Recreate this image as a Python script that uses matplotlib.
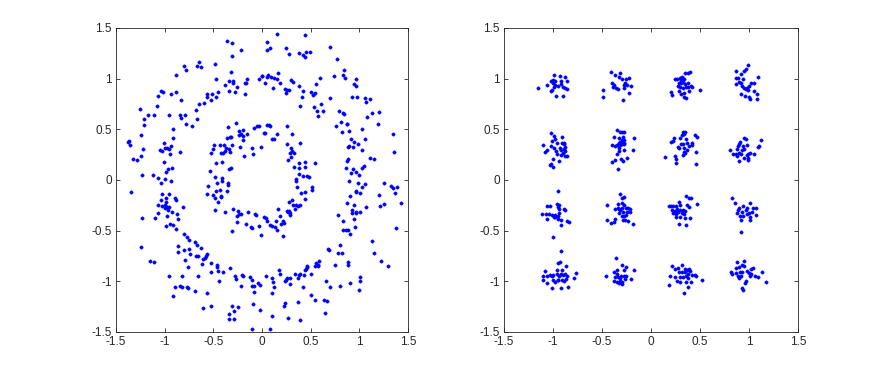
import matplotlib
matplotlib.use("Agg")
import matplotlib.pyplot as plt
import numpy as np

plt.rcParams['font.family'] = ['Liberation Sans', 'DejaVu Sans']

# ---------------- Left panel: ring constellation (x, y) ----------------
ring_upper_left = [
    (-0.363, 1.368), (-0.305, 1.352), (-0.219, 1.287), (-0.308, 1.228), (-0.801, 1.121), (-0.777, 1.081),
    (-0.651, 1.169), (-0.668, 1.124), (-0.627, 1.114), (-0.483, 1.147), (-0.880, 1.036), (-0.315, 1.065),
    (-0.476, 1.000), (-0.336, 0.974), (-0.301, 0.974), (-0.301, 0.954), (-0.151, 1.000), (-0.171, 0.961),
    (-0.164, 0.954), (-0.003, 1.023), (-0.034, 0.993), (-0.377, 0.935), (-0.260, 0.915), (-0.339, 0.879),
    (-0.277, 0.870), (-0.178, 0.844), (-1.034, 0.883), (-1.014, 0.870), (-1.065, 0.831), (-0.938, 0.850),
    (-0.887, 0.873), (-0.829, 0.785), (-0.562, 0.853), (-0.568, 0.824), (-0.476, 0.821), (-0.452, 0.870),
    (-0.510, 0.847), (-0.524, 0.792), (-0.596, 0.756), (-0.644, 0.746), (-0.675, 0.687), (-1.253, 0.700),
    (-1.079, 0.726), (-1.171, 0.645), (-1.106, 0.645), (-1.209, 0.599), (-1.216, 0.544), (-0.955, 0.642),
    (-0.839, 0.645), (-0.791, 0.645), (-0.836, 0.609), (-0.664, 0.606), (-0.777, 0.554), (-0.716, 0.528),
    (-0.918, 0.508), (-1.243, 0.446), (-1.370, 0.384), (-1.377, 0.375), (-1.353, 0.349), (-1.223, 0.309),
    (-1.240, 0.238), (-1.329, 0.208), (-1.281, 0.195), (-0.918, 0.414), (-1.010, 0.365), (-0.932, 0.332),
    (-0.973, 0.319), (-0.955, 0.309), (-1.051, 0.293), (-1.024, 0.290), (-0.997, 0.313), (-0.846, 0.277),
    (-0.949, 0.254), (-1.010, 0.179), (-0.925, 0.114), (-0.966, 0.111), (-0.983, 0.081), (-1.233, 0.049),
    (-1.123, 0.046), (-1.065, 0.016), (-0.993, 0.007), (-0.349, 0.521), (-0.267, 0.560), (-0.195, 0.498),
    (-0.236, 0.479), (-0.240, 0.446), (-0.212, 0.456), (-0.192, 0.430), (-0.154, 0.450), (-0.192, 0.391),
    (-0.082, 0.515), (-0.048, 0.528), (-0.034, 0.531), (-0.329, 0.427), (-0.318, 0.420), (-0.360, 0.410),
    (-0.394, 0.342), (-0.305, 0.349), (-0.497, 0.349), (-0.432, 0.345), (-0.373, 0.313), (-0.507, 0.309),
    (-0.336, 0.303), (-0.332, 0.280), (-0.380, 0.283), (-0.418, 0.270), (-0.397, 0.270), (-0.521, 0.264),
    (-0.223, 0.326), (-0.099, 0.316), (-0.014, 0.329), (-0.182, 0.238), (-0.089, 0.257), (-0.469, 0.163),
    (-0.408, 0.173), (-0.531, 0.091), (-0.342, 0.104), (-0.318, 0.114), (-0.486, 0.029), (-0.414, 0.023),
]

ring_upper_right = [
    (0.154, 1.443), (0.445, 1.427), (0.055, 1.358), (0.055, 1.287), (0.082, 1.300), (0.247, 1.300),
    (0.274, 1.244), (0.380, 1.254), (0.452, 1.261), (0.497, 1.264), (0.425, 1.235), (0.445, 1.218),
    (0.699, 1.309), (0.771, 1.199), (0.003, 1.026), (0.051, 1.020), (0.065, 1.039), (0.096, 1.016),
    (0.127, 1.007), (0.161, 1.052), (0.158, 0.993), (0.027, 0.961), (0.188, 0.954), (0.113, 0.906),
    (0.301, 0.987), (0.315, 0.971), (0.377, 0.925), (0.236, 0.896), (0.260, 0.886), (0.250, 0.863),
    (0.277, 0.886), (0.418, 0.876), (0.414, 0.821), (0.503, 0.870), (0.524, 0.840), (0.548, 0.863),
    (0.592, 1.010), (0.555, 0.951), (0.394, 0.730), (0.538, 0.723), (0.606, 0.746), (0.568, 0.681),
    (0.630, 0.681), (0.579, 0.629), (0.846, 1.081), (0.836, 1.036), (0.856, 1.007), (0.736, 1.029),
    (0.969, 1.000), (0.942, 0.948), (0.969, 0.928), (0.702, 0.805), (0.928, 0.824), (0.979, 0.824),
    (1.055, 0.811), (1.106, 0.801), (1.068, 0.769), (0.788, 0.684), (0.836, 0.664), (0.839, 0.651),
    (1.202, 0.671), (1.127, 0.658), (1.079, 0.625), (0.808, 0.573), (0.870, 0.557), (0.873, 0.550),
    (0.760, 0.534), (1.027, 0.505), (1.192, 0.554), (0.822, 0.469), (0.897, 0.479), (0.918, 0.407),
    (0.949, 0.378), (0.986, 0.355), (0.938, 0.322), (0.894, 0.336), (0.880, 0.326), (1.058, 0.404),
    (1.027, 0.296), (1.342, 0.453), (1.353, 0.277), (1.110, 0.215), (1.154, 0.208), (0.880, 0.205),
    (0.873, 0.189), (1.048, 0.140), (1.031, 0.114), (0.938, 0.107), (0.962, 0.081), (0.993, 0.052),
    (0.866, 0.121), (0.918, 0.065), (0.048, 0.541), (0.072, 0.547), (0.082, 0.537), (0.017, 0.466),
    (0.027, 0.466), (0.158, 0.456), (0.106, 0.404), (0.127, 0.404), (0.257, 0.537), (0.305, 0.453),
    (0.260, 0.358), (0.301, 0.316), (0.305, 0.287), (0.288, 0.270), (0.329, 0.267), (0.271, 0.195),
    (0.295, 0.231), (0.329, 0.124), (0.377, 0.121), (0.384, 0.163), (0.442, 0.173), (0.442, 0.124),
    (0.545, 0.166), (0.377, 0.055), (0.346, 0.007), (0.425, 0.042), (0.459, 0.042), (0.479, 0.026),
    (0.394, 0.362),
]

ring_lower_left = [
    (-1.034, -0.026), (-0.938, -0.007), (-1.346, -0.117), (-1.031, -0.143), (-0.955, -0.134), (-1.038, -0.195),
    (-0.986, -0.182), (-0.983, -0.215), (-1.065, -0.251), (-1.027, -0.261), (-0.993, -0.248), (-0.979, -0.267),
    (-1.000, -0.274), (-0.955, -0.267), (-0.966, -0.293), (-0.894, -0.182), (-0.887, -0.199), (-0.815, -0.267),
    (-1.068, -0.322), (-1.099, -0.375), (-1.236, -0.375), (-0.979, -0.352), (-0.925, -0.319), (-0.870, -0.332),
    (-0.866, -0.381), (-0.945, -0.430), (-0.990, -0.450), (-0.914, -0.446), (-0.887, -0.479), (-1.247, -0.658),
    (-1.147, -0.795), (-1.113, -0.805), (-0.798, -0.531), (-0.771, -0.564), (-0.747, -0.590), (-0.692, -0.612),
    (-0.671, -0.642), (-0.863, -0.651), (-0.866, -0.707), (-0.798, -0.691), (-0.747, -0.681), (-0.740, -0.733),
    (-0.791, -0.788), (-0.760, -0.860), (-0.682, -0.749), (-0.658, -0.752), (-0.630, -0.668), (-0.610, -0.775),
    (-0.586, -0.765), (-0.568, -0.730), (-0.575, -0.749), (-0.527, -0.824), (-0.613, -0.831), (-0.466, -0.837),
    (-0.459, -0.857), (-0.524, -0.909), (-0.452, -0.899), (-0.401, -0.909), (-0.445, -1.000), (-0.332, -0.866),
    (-0.952, -0.951), (-0.825, -0.948), (-0.654, -0.948), (-0.894, -1.059), (-0.842, -1.049), (-0.818, -1.052),
    (-0.767, -1.055), (-0.757, -1.068), (-0.692, -1.091), (-0.918, -1.147), (-0.565, -1.114), (-0.603, -1.261),
    (-0.527, -1.248), (-0.555, -0.059), (-0.466, -0.026), (-0.408, -0.010), (-0.349, -0.026), (-0.346, -0.049),
    (-0.565, -0.134), (-0.500, -0.147), (-0.486, -0.173), (-0.476, -0.104), (-0.432, -0.098), (-0.425, -0.153),
    (-0.418, -0.163), (-0.363, -0.111), (-0.452, -0.218), (-0.479, -0.300), (-0.384, -0.319), (-0.295, -0.287),
    (-0.250, -0.309), (-0.236, -0.339), (-0.212, -0.336), (-0.253, -0.358), (-0.257, -0.417), (-0.147, -0.313),
    (-0.075, -0.339), (-0.058, -0.349), (-0.164, -0.433), (-0.110, -0.466), (-0.106, -0.476), (-0.034, -0.453),
    (-0.308, -0.505), (-0.010, -0.547), (-0.281, -0.945), (-0.264, -0.980), (-0.202, -0.935), (-0.192, -0.945),
    (-0.219, -1.049), (-0.127, -0.958), (-0.099, -0.990), (-0.099, -1.042), (-0.082, -1.042), (-0.041, -1.020),
    (-0.021, -1.036), (-0.082, -1.107), (-0.092, -1.221), (-0.024, -1.287), (-0.312, -1.248), (-0.243, -1.251),
    (-0.291, -1.293), (-0.339, -1.322), (-0.336, -1.368), (-0.284, -1.375), (-0.106, -1.466),
]

ring_lower_right = [
    (0.353, -0.007), (0.360, -0.065), (0.397, -0.124), (0.442, -0.114), (0.514, -0.065), (0.514, -0.101),
    (0.438, -0.189), (0.308, -0.195), (0.277, -0.221), (0.315, -0.251), (0.349, -0.251), (0.370, -0.254),
    (0.390, -0.251), (0.336, -0.287), (0.164, -0.287), (0.277, -0.303), (0.253, -0.309), (0.288, -0.349),
    (0.264, -0.316), (0.284, -0.326), (0.017, -0.365), (0.041, -0.378), (0.182, -0.358), (0.147, -0.404),
    (0.055, -0.401), (0.212, -0.407), (0.226, -0.427), (0.192, -0.436), (0.103, -0.456), (0.137, -0.463),
    (0.079, -0.440), (0.158, -0.495), (0.216, -0.554), (0.894, -0.010), (0.990, -0.033), (1.055, -0.036),
    (1.024, -0.068), (0.969, -0.104), (0.966, -0.117), (1.010, -0.124), (0.901, -0.156), (1.257, -0.033),
    (1.325, -0.059), (1.346, -0.078), (1.387, -0.072), (1.366, -0.130), (1.202, -0.150), (1.250, -0.235),
    (1.216, -0.261), (1.432, -0.228), (0.877, -0.231), (0.942, -0.248), (0.921, -0.300), (0.925, -0.326),
    (0.962, -0.319), (1.003, -0.313), (0.969, -0.329), (1.072, -0.267), (0.784, -0.345), (0.829, -0.401),
    (0.942, -0.388), (0.836, -0.498), (0.860, -0.495), (0.884, -0.489), (0.901, -0.537), (0.959, -0.463),
    (1.377, -0.472), (0.678, -0.678), (0.692, -0.687), (0.805, -0.642), (0.781, -0.720), (0.818, -0.720),
    (1.127, -0.606), (1.147, -0.720), (1.223, -0.795), (1.298, -0.847), (0.747, -0.837), (0.884, -0.814),
    (0.880, -0.840), (0.582, -0.795), (0.551, -0.818), (0.548, -0.844), (0.579, -0.840), (0.575, -0.853),
    (0.466, -0.853), (0.459, -0.863), (0.449, -0.876), (0.438, -0.893), (0.390, -0.925), (0.380, -0.935),
    (0.432, -0.935), (0.366, -0.967), (0.288, -0.971), (0.260, -0.964), (0.243, -0.984), (0.233, -0.993),
    (0.291, -1.023), (0.342, -0.925), (0.507, -0.925), (0.654, -0.993), (0.702, -1.052), (0.805, -1.042),
    (0.908, -1.013), (1.003, -0.958), (1.007, -0.997), (0.993, -1.088), (0.421, -1.059), (0.503, -1.130),
    (0.541, -1.189), (0.640, -1.186), (0.664, -1.195), (0.647, -1.316), (0.370, -1.205), (0.236, -1.215),
    (0.223, -1.241), (0.271, -1.362), (0.394, -1.384), (0.106, -0.964), (0.045, -0.951), (0.113, -1.010),
    (0.120, -1.055), (0.106, -1.114), (0.171, -0.886), (0.182, -0.932), (0.099, -1.342), (0.082, -1.469),
]

# ---------------- Right panel: 16-point grid constellation ----------------
grid_upper_left = [
    (-1.158, 0.909), (-1.065, 0.938), (-1.021, 0.974), (-0.986, 1.033), (-1.000, 0.984), (-1.003, 0.961),
    (-0.976, 0.977), (-0.932, 1.023), (-0.880, 1.016), (-0.918, 0.977), (-0.853, 0.974), (-0.976, 0.935),
    (-0.952, 0.932), (-0.918, 0.945), (-0.901, 0.919), (-0.880, 0.909), (-0.860, 0.899), (-1.024, 0.876),
    (-1.010, 0.889), (-0.966, 0.831), (-0.897, 0.831), (-0.990, 0.915),
    (-0.411, 1.065), (-0.370, 1.033), (-0.318, 1.055), (-0.329, 1.020), (-0.298, 0.993), (-0.257, 0.993),
    (-0.223, 1.010), (-0.397, 0.961), (-0.373, 0.935), (-0.356, 0.909), (-0.387, 0.922), (-0.277, 0.941),
    (-0.264, 0.954), (-0.250, 0.935), (-0.209, 0.925), (-0.277, 0.909), (-0.332, 0.896), (-0.493, 0.886),
    (-0.486, 0.824), (-0.229, 0.860), (-0.281, 0.792),
    (-1.021, 0.466), (-0.986, 0.433), (-0.904, 0.420), (-0.979, 0.404), (-1.010, 0.381), (-0.955, 0.365),
    (-0.911, 0.362), (-0.890, 0.368), (-0.884, 0.355), (-1.103, 0.345), (-1.024, 0.332), (-0.990, 0.316),
    (-0.928, 0.316), (-0.880, 0.326), (-0.914, 0.296), (-0.890, 0.306), (-0.873, 0.287), (-0.966, 0.287),
    (-1.086, 0.277), (-1.062, 0.293), (-0.955, 0.254), (-0.901, 0.264), (-0.918, 0.244), (-0.877, 0.235),
    (-0.860, 0.235), (-1.003, 0.212), (-0.938, 0.192), (-1.021, 0.160), (-1.027, 0.150), (-1.000, 0.124),
    (-0.346, 0.495), (-0.318, 0.472), (-0.298, 0.472), (-0.271, 0.469), (-0.373, 0.427), (-0.325, 0.417),
    (-0.281, 0.427), (-0.175, 0.417), (-0.291, 0.394), (-0.312, 0.378), (-0.325, 0.368), (-0.295, 0.368),
    (-0.271, 0.391), (-0.397, 0.342), (-0.363, 0.332), (-0.342, 0.349), (-0.318, 0.349), (-0.301, 0.355),
    (-0.274, 0.358), (-0.277, 0.365), (-0.325, 0.316), (-0.329, 0.283), (-0.349, 0.257), (-0.274, 0.293),
    (-0.185, 0.300), (-0.308, 0.212), (-0.240, 0.215), (-0.370, 0.195), (-0.397, 0.182), (-0.281, 0.189),
    (-0.332, 0.107),
]

grid_upper_right = [
    (0.346, 1.052), (0.373, 1.059), (0.401, 1.062), (0.240, 1.000), (0.264, 0.993), (0.291, 1.007),
    (0.318, 1.016), (0.305, 0.984), (0.332, 0.993), (0.281, 0.961), (0.308, 0.954), (0.325, 0.971),
    (0.349, 0.945), (0.377, 0.954), (0.274, 0.928), (0.298, 0.922), (0.322, 0.912), (0.356, 0.919),
    (0.380, 0.919), (0.408, 0.925), (0.421, 0.919), (0.500, 0.886), (0.199, 0.870), (0.216, 0.837),
    (0.281, 0.876), (0.308, 0.850), (0.332, 0.857), (0.336, 0.824), (0.356, 0.805), (0.384, 0.880),
    (0.990, 1.134), (0.966, 1.091), (0.952, 1.075), (0.863, 1.075), (0.921, 1.046), (0.870, 1.010),
    (0.890, 1.003), (0.942, 1.000), (1.096, 1.020), (0.863, 0.945), (0.894, 0.967), (0.921, 0.961),
    (0.928, 0.928), (0.952, 0.909), (0.983, 0.909), (0.993, 0.886), (0.966, 0.896), (1.024, 0.954),
    (1.055, 0.954), (1.003, 0.928), (1.051, 0.879), (1.086, 0.847), (1.086, 0.798), (0.918, 0.850),
    (0.959, 0.831), (0.997, 0.824), (1.010, 0.798),
    (0.322, 0.472), (0.346, 0.472), (0.336, 0.453), (0.315, 0.440), (0.452, 0.440), (0.466, 0.423),
    (0.236, 0.417), (0.223, 0.381), (0.199, 0.375), (0.291, 0.414), (0.356, 0.407), (0.363, 0.362),
    (0.308, 0.355), (0.329, 0.355), (0.414, 0.368), (0.421, 0.342), (0.274, 0.322), (0.288, 0.316),
    (0.339, 0.316), (0.387, 0.336), (0.363, 0.296), (0.339, 0.277), (0.349, 0.267), (0.459, 0.274),
    (0.322, 0.244), (0.240, 0.235), (0.260, 0.212), (0.144, 0.231), (0.250, 0.169), (0.462, 0.153),
    (0.952, 0.414), (0.969, 0.401), (1.120, 0.391), (0.911, 0.375), (0.901, 0.352), (0.942, 0.336),
    (0.890, 0.336), (0.983, 0.349), (1.099, 0.336), (1.092, 0.326), (0.805, 0.293), (0.880, 0.309),
    (0.925, 0.293), (0.949, 0.309), (0.839, 0.261), (0.863, 0.261), (0.897, 0.264), (0.918, 0.261),
    (0.986, 0.261), (0.979, 0.244), (1.007, 0.267), (1.055, 0.257), (0.877, 0.238), (0.952, 0.221),
    (0.993, 0.218), (0.993, 0.202), (0.897, 0.186),
]

grid_lower_left = [
    (-0.949, -0.111), (-1.065, -0.261), (-1.027, -0.254), (-0.962, -0.238), (-0.935, -0.244), (-0.949, -0.267),
    (-0.942, -0.287), (-0.890, -0.287), (-0.877, -0.300), (-1.110, -0.336), (-1.072, -0.336), (-1.041, -0.332),
    (-1.010, -0.349), (-0.976, -0.342), (-0.993, -0.362), (-0.952, -0.358), (-0.935, -0.326), (-0.976, -0.368),
    (-1.062, -0.381), (-0.949, -0.384), (-0.914, -0.391), (-0.856, -0.407), (-0.836, -0.417), (-0.918, -0.443),
    (-1.003, -0.560),
    (-0.315, -0.143), (-0.301, -0.179), (-0.271, -0.169), (-0.445, -0.248), (-0.332, -0.238), (-0.301, -0.228),
    (-0.277, -0.244), (-0.363, -0.283), (-0.339, -0.280), (-0.322, -0.290), (-0.301, -0.280), (-0.257, -0.280),
    (-0.236, -0.277), (-0.216, -0.290), (-0.315, -0.300), (-0.284, -0.319), (-0.250, -0.313), (-0.216, -0.316),
    (-0.329, -0.322), (-0.257, -0.342), (-0.277, -0.358), (-0.445, -0.394), (-0.411, -0.420), (-0.366, -0.381),
    (-0.377, -0.414), (-0.288, -0.397), (-0.267, -0.394), (-0.233, -0.404), (-0.188, -0.436), (-0.301, -0.352),
    (-0.918, -0.700), (-0.949, -0.821), (-0.928, -0.808), (-0.866, -0.847), (-1.079, -0.896), (-0.962, -0.886),
    (-0.911, -0.893), (-1.103, -0.945), (-1.065, -0.945), (-1.031, -0.938), (-1.010, -0.951), (-0.997, -0.938),
    (-0.959, -0.928), (-0.942, -0.945), (-0.918, -0.932), (-0.894, -0.938), (-0.877, -0.925), (-0.856, -0.945),
    (-0.866, -0.977), (-0.764, -0.919), (-0.781, -0.964), (-1.099, -0.990), (-1.062, -1.016), (-1.003, -0.990),
    (-0.983, -1.003), (-0.952, -0.984), (-0.908, -0.990), (-0.884, -0.993), (-1.014, -1.062), (-0.921, -1.068),
    (-0.842, -1.059), (-0.949, -0.987),
    (-0.360, -0.769), (-0.301, -0.834), (-0.257, -0.860), (-0.346, -0.886), (-0.277, -0.893), (-0.178, -0.886),
    (-0.377, -0.906), (-0.346, -0.932), (-0.462, -0.948), (-0.370, -0.954), (-0.332, -0.954), (-0.308, -0.945),
    (-0.277, -0.948), (-0.257, -0.951), (-0.318, -0.971), (-0.267, -0.974), (-0.199, -0.974), (-0.377, -1.000),
    (-0.346, -1.003), (-0.315, -0.997), (-0.291, -1.007), (-0.301, -1.029), (-0.325, -1.013),
]

grid_lower_right = [
    (0.353, -0.153), (0.387, -0.173), (0.411, -0.179), (0.281, -0.221), (0.466, -0.241), (0.199, -0.261),
    (0.188, -0.254), (0.229, -0.261), (0.260, -0.254), (0.291, -0.244), (0.366, -0.251), (0.384, -0.270),
    (0.212, -0.293), (0.240, -0.303), (0.267, -0.287), (0.301, -0.293), (0.322, -0.300), (0.349, -0.303),
    (0.229, -0.326), (0.250, -0.336), (0.274, -0.319), (0.315, -0.326), (0.332, -0.336), (0.257, -0.365),
    (0.295, -0.368), (0.342, -0.375), (0.394, -0.375), (0.288, -0.433), (0.356, -0.443),
    (0.829, -0.173), (0.853, -0.228), (0.942, -0.254), (1.014, -0.225), (0.983, -0.277), (1.038, -0.274),
    (1.075, -0.274), (0.897, -0.277), (0.887, -0.296), (0.880, -0.326), (0.925, -0.313), (0.966, -0.293),
    (1.003, -0.326), (1.034, -0.316), (1.068, -0.345), (0.911, -0.358), (0.935, -0.355), (0.976, -0.336),
    (0.921, -0.397), (1.010, -0.368), (1.007, -0.391), (0.914, -0.515),
    (0.219, -0.853), (0.312, -0.840), (0.277, -0.873), (0.243, -0.879), (0.342, -0.879), (0.370, -0.886),
    (0.390, -0.879), (0.401, -0.896), (0.195, -0.951), (0.281, -0.912), (0.315, -0.912), (0.349, -0.912),
    (0.377, -0.928), (0.247, -0.961), (0.291, -0.954), (0.325, -0.961), (0.353, -0.951), (0.377, -0.964),
    (0.414, -0.938), (0.445, -0.938), (0.462, -0.945), (0.524, -0.990), (0.264, -1.000), (0.298, -1.003),
    (0.356, -1.007), (0.411, -1.003), (0.188, -1.033), (0.377, -1.052), (0.332, -1.111),
    (0.880, -0.808), (0.945, -0.801), (0.925, -0.840), (0.897, -0.863), (0.949, -0.853), (0.870, -0.873),
    (0.863, -0.922), (0.812, -0.912), (0.829, -0.928), (0.908, -0.912), (0.932, -0.906), (0.918, -0.951),
    (0.890, -0.951), (0.901, -0.971), (1.021, -0.879), (1.041, -0.873), (0.983, -0.896), (1.000, -0.919),
    (1.021, -0.928), (1.010, -0.945), (1.130, -0.912), (1.096, -0.954), (0.966, -1.000), (0.959, -1.016),
    (0.932, -1.062), (0.938, -1.085), (1.171, -1.010), (1.058, -0.945),
]

ticks = [-1.5, -1, -0.5, 0, 0.5, 1, 1.5]
tick_labels = ['-1.5', '-1', '-0.5', '0', '0.5', '1', '1.5']

fig = plt.figure(figsize=(8.83, 3.74), dpi=100)
ax1 = fig.add_axes([116 / 883, 1 - 332 / 374, 292 / 883, 304 / 374])
ax2 = fig.add_axes([504 / 883, 1 - 332 / 374, 294 / 883, 304 / 374])

panels = [
    (ax1, [ring_upper_left, ring_upper_right, ring_lower_left, ring_lower_right]),
    (ax2, [grid_upper_left, grid_upper_right, grid_lower_left, grid_lower_right]),
]

for ax, groups in panels:
    pts = np.array([p for g in groups for p in g])
    ax.plot(pts[:, 0], pts[:, 1], linestyle='none', marker='o', markersize=2.4,
            markerfacecolor=(0, 0, 1), markeredgecolor=(0, 0, 1), markeredgewidth=0.3)
    ax.set_xlim(-1.5, 1.5)
    ax.set_ylim(-1.5, 1.5)
    ax.set_xticks(ticks)
    ax.set_yticks(ticks)
    ax.set_xticklabels(tick_labels)
    ax.set_yticklabels(tick_labels)
    ax.tick_params(direction='in', length=3, width=0.6, top=True, right=True,
                   labelsize=8.5, colors='#262626', pad=3)
    for sp in ax.spines.values():
        sp.set_linewidth(0.6)
        sp.set_color('#262626')

fig.savefig('out.png', dpi=100)
